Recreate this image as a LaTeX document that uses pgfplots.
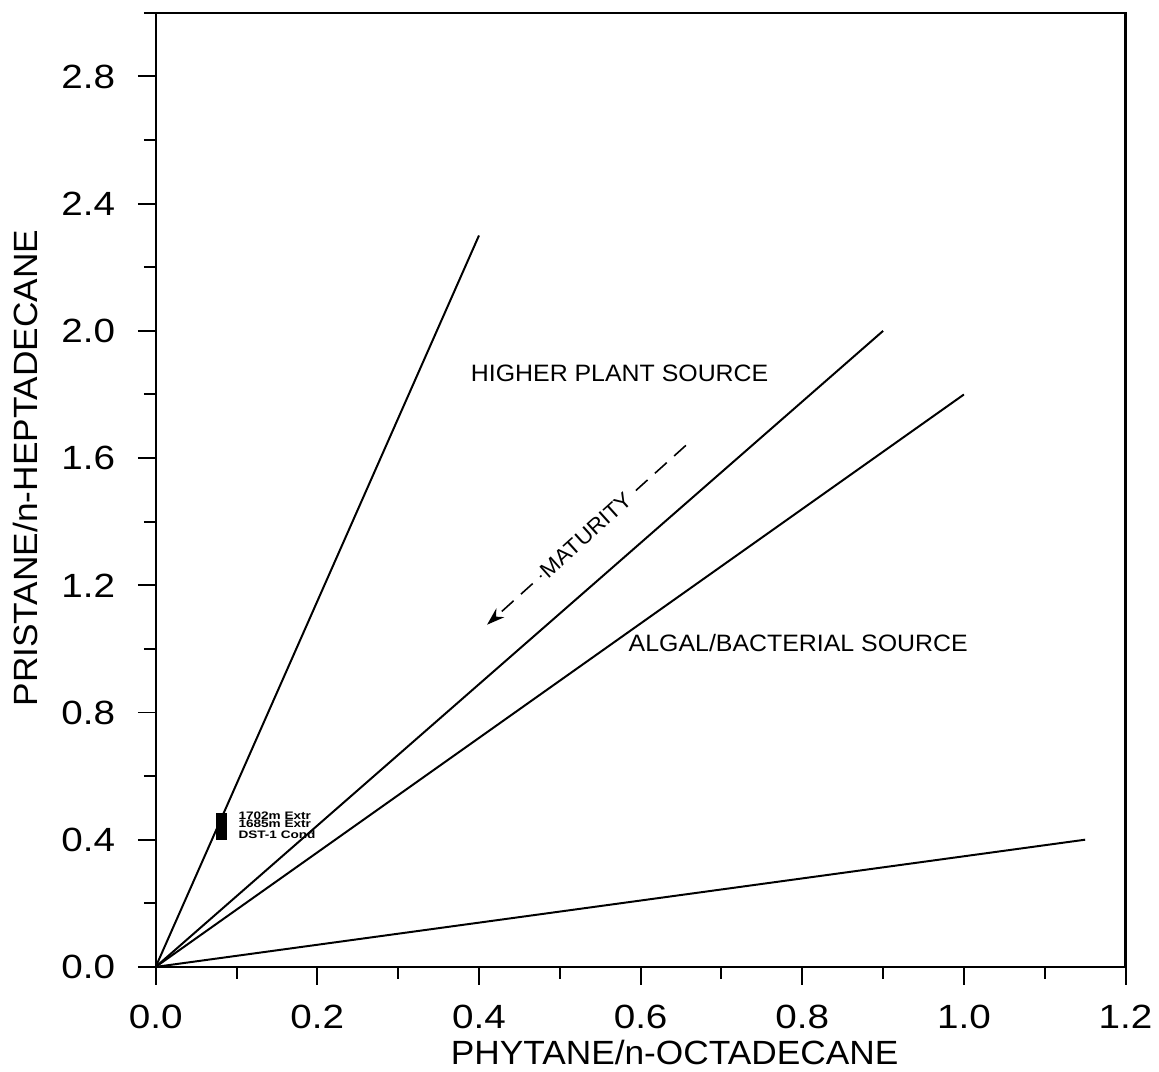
\documentclass[border=0pt]{standalone}
\usepackage{fontspec}
\setmainfont{Liberation Sans}[FakeStretch=1.05]
\newfontfamily\tickfont{Liberation Sans}[FakeStretch=1.15]
\newfontfamily\smallfont{Liberation Sans Bold}[FakeStretch=1.25]
\usepackage{pgfplots}
\pgfplotsset{compat=1.18}
\usetikzlibrary{arrows.meta}

\begin{document}
\begin{tikzpicture}
	\begin{axis}[
			scale only axis,
			width=489bp, height=481bp,
			xmin=0, xmax=1.2,
			ymin=0, ymax=3.0,
			axis line style={line width=1.2bp},
			xtick={0,0.2,0.4,0.6,0.8,1.0,1.2},
			ytick={0,0.4,0.8,1.2,1.6,2.0,2.4,2.8},
			minor xtick={0.1,0.3,0.5,0.7,0.9,1.1},
			minor ytick={0.2,0.6,1.0,1.4,1.8,2.2,2.6,3.0},
			xtick pos=bottom, ytick pos=left,
			tick align=outside,
			major tick length=9bp, minor tick length=6bp,
			tick style={line width=1bp, black},
			ticklabel style={font=\tickfont\fontsize{17}{20}\selectfont},
			xticklabel style={yshift=-6.5bp},
			yticklabel style={xshift=-8bp},
			/pgf/number format/assume math mode=true,
			/pgf/number format/fixed,
			/pgf/number format/fixed zerofill,
			/pgf/number format/precision=1,
			xlabel={PHYTANE/n-OCTADECANE},
			ylabel={PRISTANE/n-HEPTADECANE},
			xlabel style={font=\fontsize{17}{20}\selectfont, at={(axis description cs:0.535,-0.09)}, anchor=center},
			ylabel style={font=\fontsize{17}{20}\selectfont, at={(axis description cs:-0.134,0.523)}, anchor=center},
		]

		\addplot [black, line width=1bp] coordinates {(0,0) (0.4,2.3)};
		\addplot [black, line width=1bp] coordinates {(0,0) (0.9,2.0)};
		\addplot [black, line width=1bp] coordinates {(0,0) (1.0,1.8)};
		\addplot [black, line width=1bp] coordinates {(0,0) (1.15,0.4)};

		% samples
		\addplot [black, only marks, mark=square*, mark size=2.5bp] coordinates {
			(0.081,0.468)
			(0.081,0.443)
			(0.081,0.415)
		};

		\node [anchor=west, inner sep=0, font=\smallfont\fontsize{5.5}{6}\selectfont] at (axis cs:0.102,0.474) {1702m Extr};
		\node [anchor=west, inner sep=0, font=\smallfont\fontsize{5.5}{6}\selectfont] at (axis cs:0.102,0.449) {1685m Extr};
		\node [anchor=west, inner sep=0, font=\smallfont\fontsize{5.5}{6}\selectfont] at (axis cs:0.102,0.416) {DST-1 Cond};

		\node [font=\fontsize{12}{14}\selectfont] at (axis cs:0.574,1.865) {HIGHER PLANT SOURCE};
		\node [font=\fontsize{12}{14}\selectfont] at (axis cs:0.795,1.017) {ALGAL/BACTERIAL SOURCE};

		\draw [line width=0.8bp, dash pattern=on 8bp off 5bp, -{Stealth[length=9bp,width=6bp]}]
			(axis cs:0.656,1.64) -- node [sloped, fill=white, inner sep=1.5bp, font=\fontsize{11}{13}\selectfont] {MATURITY} (axis cs:0.410,1.076);
	\end{axis}
	\path (current axis.south west) ++(-78.5bp,-50bp) rectangle ++(579.5bp,537.5bp);
\end{tikzpicture}
\end{document}
